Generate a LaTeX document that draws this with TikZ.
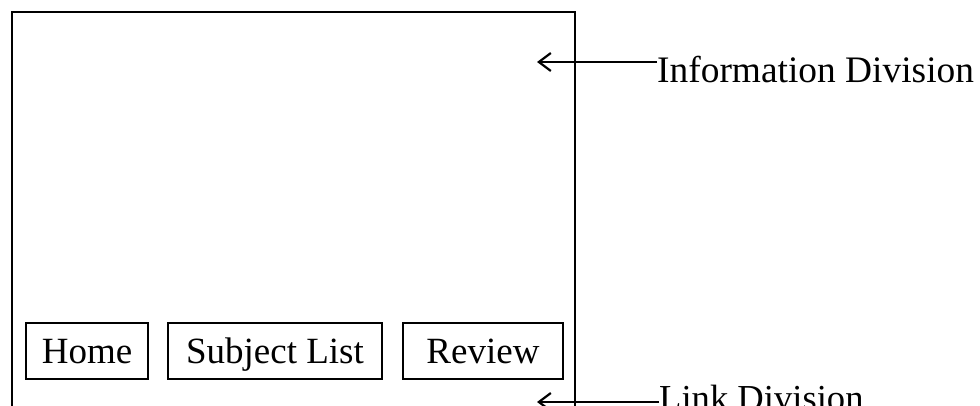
\documentclass[tikz,border=0pt]{standalone}
\usepackage{fontspec}
\setmainfont{Liberation Serif}
\usetikzlibrary{arrows.meta,positioning,calc}

\begin{document}
\begin{tikzpicture}[x=1pt, y=-1pt]
        \tikzstyle{button}=[draw=black, line width=2.2pt, inner sep=0pt, minimum height=56pt, text height=24pt, text depth=0pt, font=\fontsize{37}{40}\selectfont];
        \tikzstyle{label}=[inner sep=0pt, anchor=base west, font=\fontsize{36.6}{40}\selectfont];
        \tikzstyle{pointer}=[line width=2.2pt, -{Straight Barb[length=12pt, width=18pt, line width=2.2pt]}];

        \useasboundingbox (0, 0) rectangle (980, 406);

        % page frame, open at the bottom
        \draw[line width=2.4pt] (12, 412) |- (575, 12) -- (575, 412);

        \node (home) at (87, 351) [button, minimum width=122pt] {Home};
        \node (subjects) at (275, 351) [button, minimum width=214pt] {Subject List};
        \node (review) at (483, 351) [button, minimum width=160pt] {Review};

        \node (info) at (657, 83) [label, font=\fontsize{37.4}{40}\selectfont] {Information Division};
        \node (link) at (659, 410) [label] {Link Division};

        \coordinate (infotip) at (537, 62);
        \coordinate (linktip) at (537, 402);

        \draw[pointer] (info.west |- infotip) -- (infotip);
        \draw[pointer] (link.west |- linktip) -- (linktip);

    \end{tikzpicture}
\end{document}
